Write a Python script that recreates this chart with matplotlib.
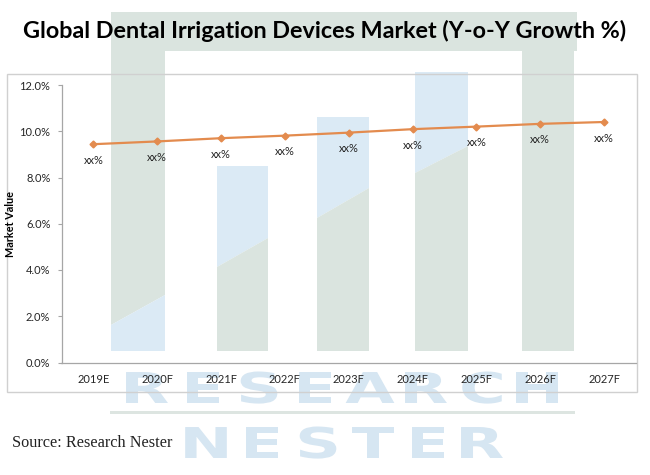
import matplotlib.pyplot as plt
from matplotlib.patches import Rectangle, Polygon, PathPatch
from matplotlib.ticker import FuncFormatter
from matplotlib.textpath import TextPath
from matplotlib.font_manager import FontProperties
from matplotlib.transforms import Affine2D

# Chart data (in %)
years = ["2019E", "2020F", "2021F", "2022F", "2023F", "2024F", "2025F", "2026F", "2027F"]
growth = [9.44, 9.56, 9.70, 9.81, 9.94, 10.09, 10.20, 10.32, 10.40]
point_labels = ["xx%"] * len(years)

title = "Global Dental Irrigation Devices Market (Y-o-Y Growth %)"
source = "Source: Research Nester"

W, H = 650, 475
fig = plt.figure(figsize=(W / 100, H / 100), dpi=100)

# Background layer in pixel coordinates (watermark + chart border)
bg = fig.add_axes([0, 0, 1, 1], zorder=0)
bg.set_xlim(0, W)
bg.set_ylim(H, 0)
bg.axis("off")

green = "#dae4df"
blue = "#dbeaf5"

# logo-like watermark bars
bg.add_patch(Rectangle((111, 12), 466, 39, color=green, lw=0))
bg.add_patch(Polygon([(111, 51), (165, 51), (165, 295), (111, 325)], color=green, lw=0))
bg.add_patch(Polygon([(111, 325), (165, 295), (165, 351), (111, 351)], color=blue, lw=0))
bg.add_patch(Rectangle((522, 51), 52, 300, color=green, lw=0))
for x0, x1, top, dl, dr in [(217, 268, 166, 267, 238),
                            (317, 369, 117, 218, 188),
                            (415, 468, 72, 173, 146)]:
    bg.add_patch(Polygon([(x0, top), (x1, top), (x1, dr), (x0, dl)], color=blue, lw=0))
    bg.add_patch(Polygon([(x0, dl), (x1, dr), (x1, 351), (x0, 351)], color=green, lw=0))

# watermark text, drawn as stretched glyph outlines
wm = "#d6e6f2"
fp = FontProperties(family="DejaVu Sans", weight="bold")


def wm_letter(ch, cx, base, cap_h, stretch):
    p = TextPath((0, 0), ch, size=1, prop=fp)
    ext = p.get_extents()
    em = cap_h / 0.73
    tr = (Affine2D().translate(-(ext.x0 + ext.width / 2), 0)
          .scale(em * stretch, -em).translate(cx, base))
    bg.add_patch(PathPatch(tr.transform_path(p), color=wm, lw=0))


for ch, cx in zip("RESEARCH", [147, 203, 259, 315, 370, 426, 482, 537]):
    wm_letter(ch, cx, 403, 31, 1.5)
bg.add_patch(Rectangle((110, 411), 465, 3, color="#dde5e1", lw=0))
for ch, cx in zip("NESTER", [206, 262, 318, 373, 428, 482]):
    wm_letter(ch, cx, 458, 31, 1.5)

# chart border
bg.add_patch(Rectangle((7, 74), 630, 318, fill=False, ec="#d0d0d0", lw=1))

bg.text(325, 31, title, fontsize=16.8, fontweight="bold", ha="center", va="center",
        family="Lato", color="black")
bg.text(12, 443, source, fontsize=11.7, ha="left", va="center",
        family="Liberation Serif", color="#222222")

# Main plot
left, right, top, bottom = 61.5, 636, 85, 362.5
ax = fig.add_axes([left / W, (H - bottom) / H, (right - left) / W, (bottom - top) / H],
                  zorder=2)
ax.set_facecolor("none")

x = list(range(len(years)))
ax.plot(x, growth, color="#e38b4e", lw=1.6, marker="D", ms=3.5)
for i, (v, lbl) in enumerate(zip(growth, point_labels)):
    ax.annotate(lbl, (i, v), xytext=(0, -16), textcoords="offset pixels",
                ha="center", va="center", fontsize=8, family="Lato", color="#262626")

ax.set_xlim(-0.5, len(years) - 0.5)
ax.set_ylim(0, 12)
ax.set_yticks(range(0, 13, 2))
ax.yaxis.set_major_formatter(FuncFormatter(lambda v, p: f"{v:.1f}%"))
ax.set_xticks(x)
ax.set_xticklabels(years)

for lab in ax.get_xticklabels() + ax.get_yticklabels():
    lab.set_family("Lato")
    lab.set_fontsize(8)
    lab.set_color("#262626")

ax.tick_params(axis="x", length=0, pad=8)
ax.tick_params(axis="y", length=3, width=0.8, color="#a6a6a6", pad=5)
for s in ["top", "right"]:
    ax.spines[s].set_visible(False)
for s in ["left", "bottom"]:
    ax.spines[s].set_color("#a6a6a6")
    ax.spines[s].set_linewidth(0.9)

ax.set_ylabel("Market Value", fontsize=7.8, fontweight="bold", family="Lato")
ax.yaxis.set_label_coords(-0.079, 0.5)

fig.savefig("out.png", dpi=100)
